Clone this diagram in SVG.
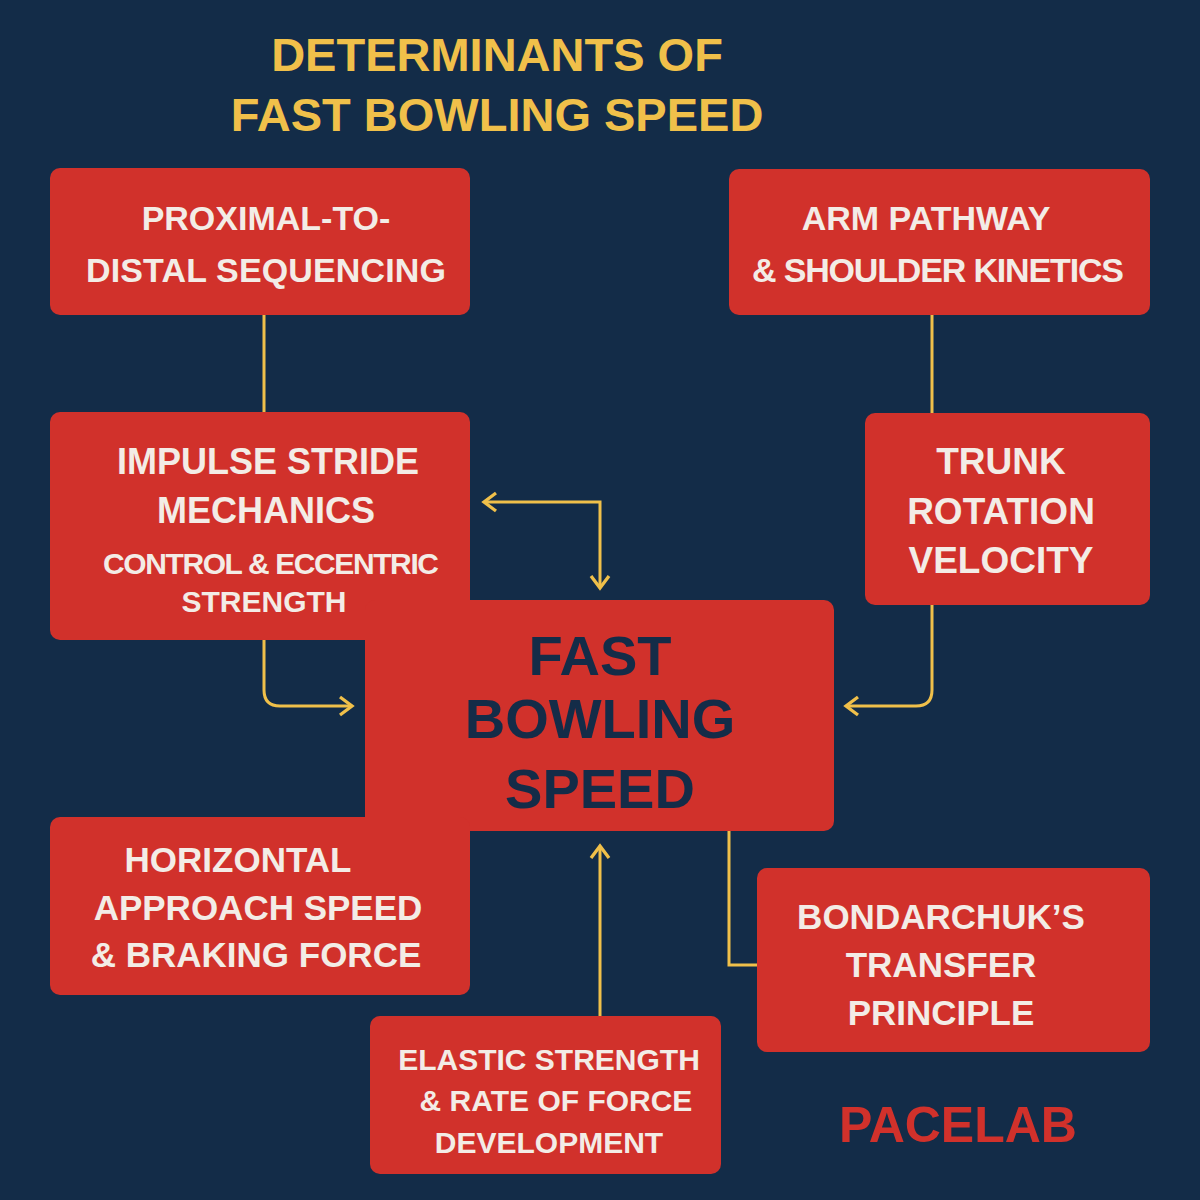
<svg xmlns="http://www.w3.org/2000/svg" width="1200" height="1200" viewBox="0 0 1200 1200">
<style>
.box{fill:#d1312b}
.t{font-family:"Liberation Sans",Arial,sans-serif;font-weight:bold;fill:#f3ece6;text-anchor:middle}
.c{stroke:#f0c04a;stroke-width:3;fill:none}
</style>
<defs>
<marker id="a" viewBox="0 0 12 12" refX="10" refY="6" markerWidth="18" markerHeight="18" orient="auto-start-reverse" markerUnits="userSpaceOnUse" overflow="visible">
<polyline points="2,0 10,6 2,12" fill="none" stroke="#f0c04a" stroke-width="2.2" stroke-linejoin="miter"/>
</marker>
</defs>
<rect width="1200" height="1200" fill="#132c48"/>
<g id="title" class="t" style="fill:#f0c04a;font-size:47px">
<text x="497" y="71">DETERMINANTS OF</text>
<text x="497" y="131">FAST BOWLING SPEED</text>
</g>
<g id="connectors">
<line class="c" x1="264" y1="315" x2="264" y2="412"/>
<line class="c" x1="932" y1="315" x2="932" y2="413"/>
<path class="c" d="M484,502 H600 V588" marker-start="url(#a)" marker-end="url(#a)"/>
<path class="c" d="M264,640 V690 Q264,706 280,706 H352" marker-end="url(#a)"/>
<path class="c" d="M932,605 V690 Q932,706 916,706 H846" marker-end="url(#a)"/>
<path class="c" d="M600,1016 V846" marker-end="url(#a)"/>
<path class="c" d="M729,831 V965 H757"/>
</g>
<g id="n1"><rect class="box" x="50" y="168" width="420" height="147" rx="10"/>
<g class="t" font-size="34"><text x="266" y="230">PROXIMAL-TO-</text><text x="266" y="282" textLength="360">DISTAL  SEQUENCING</text></g></g>
<g id="n2"><rect class="box" x="729" y="169" width="421" height="146" rx="10"/>
<g class="t" font-size="34"><text x="926" y="230">ARM PATHWAY</text><text x="938" y="282" textLength="372">&amp; SHOULDER KINETICS</text></g></g>
<g id="n3"><rect class="box" x="50" y="412" width="420" height="228" rx="10"/>
<g class="t" font-size="36"><text x="268" y="474">IMPULSE STRIDE</text><text x="266" y="523">MECHANICS</text></g>
<g class="t" font-size="30"><text x="271" y="574" textLength="336">CONTROL &amp; ECCENTRIC</text><text x="264" y="612">STRENGTH</text></g></g>
<g id="n4"><rect class="box" x="865" y="413" width="285" height="192" rx="10"/>
<g class="t" font-size="37"><text x="1001" y="474">TRUNK</text><text x="1001" y="524">ROTATION</text><text x="1001" y="573">VELOCITY</text></g></g>
<g id="center"><rect class="box" x="365" y="600" width="469" height="231" rx="10"/>
<g class="t" font-size="56" style="fill:#142c48"><text x="600" y="675">FAST</text><text x="600" y="738">BOWLING</text><text x="600" y="808">SPEED</text></g></g>
<g id="n5"><rect class="box" x="50" y="817" width="420" height="178" rx="10"/>
<g class="t" font-size="35"><text x="238" y="872">HORIZONTAL</text><text x="258" y="920">APPROACH SPEED</text><text x="256" y="967">&amp; BRAKING FORCE</text></g></g>
<g id="n6"><rect class="box" x="757" y="868" width="393" height="184" rx="10"/>
<g class="t" font-size="35"><text x="941" y="929">BONDARCHUK’S</text><text x="941" y="977">TRANSFER</text><text x="941" y="1025">PRINCIPLE</text></g></g>
<g id="n7"><rect class="box" x="370" y="1016" width="351" height="158" rx="10"/>
<g class="t" font-size="30"><text x="549" y="1070">ELASTIC STRENGTH</text><text x="556" y="1111">&amp; RATE OF FORCE</text><text x="549" y="1153">DEVELOPMENT</text></g></g>
<text x="958" y="1142" class="t" font-size="50" style="fill:#d1312b">PACELAB</text>
</svg>
